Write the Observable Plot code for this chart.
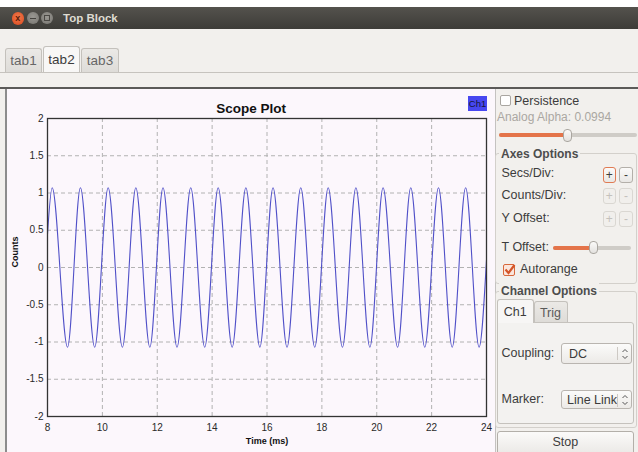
<!DOCTYPE html>
<html><head><meta charset="utf-8">
<script src="https://cdn.jsdelivr.net/npm/d3@7"></script>
<script src="https://cdn.jsdelivr.net/npm/@observablehq/plot@0.6"></script>
<style>
html,body{margin:0;padding:0;}
body{width:638px;height:452px;overflow:hidden;position:relative;background:#f2f0ed;font-family:"Liberation Sans",Arial,sans-serif;color:#3c3c3c;}
.a{position:absolute;box-sizing:border-box;}
.t{position:absolute;white-space:nowrap;line-height:16px;height:16px;font-size:12.5px;}
.tab{position:absolute;box-sizing:border-box;border:1px solid #c4c1bc;border-bottom:none;border-radius:3px 3px 0 0;background:linear-gradient(#ebe9e6,#dedcd8);text-align:center;font-size:13.5px;color:#666;}
.btn{position:absolute;box-sizing:border-box;border:1px solid #b3afa9;border-radius:3px;background:linear-gradient(#fbfaf9,#e9e7e4);text-align:center;font-size:12px;line-height:14px;color:#3c3c3c;}
.btn.dis{border-color:#dad7d2;color:#c4c1bc;background:#f1efec;}
.combo{position:absolute;box-sizing:border-box;border:1px solid #b9b5b0;border-radius:3px;background:linear-gradient(#fbfbfa,#eceae7);overflow:hidden;}
.grp{position:absolute;box-sizing:border-box;border:1px solid #d3d0cb;border-radius:3px;}
</style></head><body>
<div class="a" style="left:0;top:0;width:638px;height:7px;background:#fff"></div>
<div class="a" style="left:0;top:7px;width:638px;height:22px;background:linear-gradient(#54524d,#3d3c38);"></div>
<div class="a" style="left:11.5px;top:12px;width:12.5px;height:12.5px;border-radius:50%;background:radial-gradient(circle at 50% 40%,#f27a4c,#d9481e);"></div>
<div class="a" style="left:11.5px;top:11px;width:12.5px;height:14px;font-size:9px;line-height:14px;text-align:center;color:#5a1c08;font-weight:bold;">x</div>
<div class="a" style="left:26.5px;top:12px;width:12px;height:12px;border-radius:50%;background:radial-gradient(circle at 50% 40%,#9a9893,#76746f);"></div>
<div class="a" style="left:29.5px;top:17.5px;width:6px;height:1.5px;background:#45433f;"></div>
<div class="a" style="left:41px;top:12px;width:12px;height:12px;border-radius:50%;background:radial-gradient(circle at 50% 40%,#9a9893,#76746f);"></div>
<div class="a" style="left:44px;top:15px;width:6px;height:6px;border:1px solid #4a4844;"></div>
<div class="t" style="left:63px;top:10px;font-size:11.5px;font-weight:bold;color:#dfdbd2;">Top Block</div>

<div class="tab" style="left:5px;top:48px;width:37px;height:24px;line-height:24px;">tab1</div>
<div class="tab" style="left:43px;top:45.5px;width:37px;height:27px;line-height:26px;background:#f8f7f6;color:#3c3c3c;">tab2</div>
<div class="tab" style="left:81px;top:48px;width:38px;height:24px;line-height:24px;">tab3</div>
<div class="a" style="left:0;top:71.5px;width:638px;height:1px;background:#c6c3be"></div>
<div class="a" style="left:0;top:87px;width:638px;height:2px;background:#5b5a58"></div>

<div class="a" id="plotwrap" style="left:5px;top:89px;width:491px;height:363px;border-left:2px solid #8c8c8c;border-right:1px solid #c4c2c0;background:#fcf7fc;overflow:hidden;"></div>
<div class="a" style="left:468px;top:96px;width:19px;height:15px;background:#4747f0;font-size:9.5px;line-height:15px;text-align:center;color:#15153c;">Ch1</div>

<!-- right panel -->
<div class="a" style="left:500px;top:95px;width:11px;height:11px;border:1px solid #a9a6a1;border-radius:2px;background:#fff;"></div>
<div class="t" style="left:514px;top:93px;">Persistence</div>
<div class="t" style="left:497px;top:109px;font-size:12px;color:#aaa7a2;">Analog Alpha: 0.0994</div>
<div class="a" style="left:499px;top:133px;width:138px;height:4px;border-radius:2px;background:#cfccc7;"></div>
<div class="a" style="left:499px;top:133px;width:66px;height:4px;border-radius:2px;background:#e4744a;"></div>
<div class="a" style="left:562.5px;top:128.5px;width:9px;height:13px;border:1px solid #aaa6a0;border-radius:4px;background:linear-gradient(#fbfaf9,#e3e1de);"></div>

<div class="grp" style="left:495px;top:153px;width:142px;height:131px;"></div>
<div class="t" style="left:499px;top:146px;font-size:12px;font-weight:bold;color:#4d4d4d;background:#f2f0ed;padding:0 2px;">Axes Options</div>
<div class="t" style="left:501.5px;top:165px;">Secs/Div:</div>
<div class="btn" style="left:602.5px;top:166.5px;width:13.5px;height:16px;border-color:#e07b53;">+</div>
<div class="btn" style="left:619px;top:166.5px;width:14px;height:16px;">-</div>
<div class="t" style="left:501.5px;top:187px;">Counts/Div:</div>
<div class="btn dis" style="left:602.5px;top:188px;width:13.5px;height:16px;">+</div>
<div class="btn dis" style="left:619px;top:188px;width:14px;height:16px;">-</div>
<div class="t" style="left:501.5px;top:210px;">Y Offset:</div>
<div class="btn dis" style="left:602.5px;top:211px;width:13.5px;height:16px;">+</div>
<div class="btn dis" style="left:619px;top:211px;width:14px;height:16px;">-</div>
<div class="t" style="left:501.5px;top:239px;">T Offset:</div>
<div class="a" style="left:553px;top:245.5px;width:78px;height:4px;border-radius:2px;background:#cfccc7;"></div>
<div class="a" style="left:553px;top:245.5px;width:39px;height:4px;border-radius:2px;background:#e4744a;"></div>
<div class="a" style="left:588.5px;top:241px;width:9px;height:13px;border:1px solid #aaa6a0;border-radius:4px;background:linear-gradient(#fbfaf9,#e3e1de);"></div>
<div class="a" style="left:503px;top:263.5px;width:12px;height:12px;border:1px solid #d8683b;border-radius:2px;background:#fbe6dc;"></div>
<svg class="a" style="left:503px;top:262px" width="14" height="14"><path d="M2.5 7.5 L5.5 11 L11.5 3" fill="none" stroke="#d4562a" stroke-width="2.2"/></svg>
<div class="t" style="left:520px;top:261px;">Autorange</div>

<div class="grp" style="left:495px;top:291px;width:142px;height:137px;"></div>
<div class="t" style="left:499px;top:283px;font-size:12px;font-weight:bold;color:#4d4d4d;background:#f2f0ed;padding:0 2px;">Channel Options</div>
<div class="a" style="left:497px;top:321.5px;width:136.5px;height:102px;border:1px solid #c5c2bd;border-radius:0 3px 3px 3px;background:#f3f2f0;"></div>
<div class="tab" style="left:497px;top:298.5px;width:36.5px;height:24px;line-height:24px;font-size:12.5px;background:#f7f6f5;color:#3c3c3c;">Ch1</div>
<div class="tab" style="left:533.5px;top:301px;width:34px;height:21px;line-height:22px;font-size:12.5px;color:#5a5a5a;">Trig</div>
<div class="t" style="left:501.5px;top:345px;">Coupling:</div>
<div class="combo" style="left:561px;top:343px;width:71px;height:20.5px;">
  <div class="t" style="left:7px;top:1.5px;">DC</div>
  <div class="a" style="left:55px;top:3px;width:1px;height:13px;background:#cdc9c4"></div>
  <svg class="a" style="left:59px;top:3px" width="8" height="14"><path d="M1.5 5 L4 2.5 L6.5 5 M1.5 9 L4 11.5 L6.5 9" fill="none" stroke="#555" stroke-width="1"/></svg>
</div>
<div class="t" style="left:501.5px;top:391px;">Marker:</div>
<div class="combo" style="left:561px;top:389.5px;width:71px;height:19.5px;">
  <div class="a" style="left:5px;top:1px;width:50px;height:16px;overflow:hidden;"><div class="t" style="left:0;top:0;">Line Link</div></div>
  <div class="a" style="left:55px;top:3px;width:1px;height:13px;background:#cdc9c4"></div>
  <svg class="a" style="left:59px;top:2.5px" width="8" height="14"><path d="M1.5 5 L4 2.5 L6.5 5 M1.5 9 L4 11.5 L6.5 9" fill="none" stroke="#555" stroke-width="1"/></svg>
</div>
<div class="btn" style="left:497px;top:430.5px;width:136.5px;height:26px;line-height:21px;font-size:12.5px;">Stop</div>

<script>
// ---- data ----
const xTicks = [8, 10, 12, 14, 16, 18, 20, 22, 24];
const yTicks = [-2, -1.5, -1, -0.5, 0, 0.5, 1, 1.5, 2];
const peakTimes = [8.17, 9.20, 10.21, 11.22, 12.21, 13.22, 14.22, 15.23, 16.22, 17.23, 18.23, 19.24, 20.23, 21.24, 22.25, 23.24];
const peakValues = [1.07, 1.07, 1.07, 1.07, 1.07, 1.07, 1.07, 1.07, 1.07, 1.07, 1.07, 1.07, 1.07, 1.07, 1.07, 1.07];
const troughTimes = [8.73, 9.72, 10.73, 11.73, 12.72, 13.73, 14.73, 15.74, 16.73, 17.74, 18.75, 19.75, 20.76, 21.75, 22.75, 23.73];
const troughValues = [-1.07, -1.07, -1.07, -1.07, -1.07, -1.07, -1.07, -1.07, -1.07, -1.07, -1.07, -1.07, -1.07, -1.07, -1.07, -1.07];
const startTime = 8, startValue = 0.45;
const endTime = 24, endValue = 0.1;

const samples = [{t: startTime, v: startValue}];
peakTimes.forEach((t, i) => {
  samples.push({t, v: peakValues[i]});
  samples.push({t: troughTimes[i], v: troughValues[i]});
});
samples.push({t: endTime, v: endValue});

const fmt = d => String(d);
const chart = Plot.plot({
  width: 488, height: 362,
  marginLeft: 40, marginRight: 9, marginTop: 28, marginBottom: 36,
  style: {background: "transparent", fontFamily: "Liberation Sans, Arial, sans-serif", fontSize: "10px", color: "#2a2a2a", overflow: "visible"},
  x: {domain: [8, 24], label: null},
  y: {domain: [-2, 2], label: null},
  marks: [
    Plot.gridX(xTicks.slice(1, -1), {stroke: "#b2b2b2", strokeOpacity: 1, strokeDasharray: "4,3"}),
    Plot.gridY(yTicks.slice(1, -1), {stroke: "#b2b2b2", strokeOpacity: 1, strokeDasharray: "4,3"}),
    Plot.line(samples, {x: "t", y: "v", curve: "monotone-x", stroke: "#5050c8", strokeWidth: 1.1}),
    Plot.frame({stroke: "#333", strokeWidth: 1.3}),
    Plot.axisX(xTicks, {tickSize: 0, tickPadding: 7, tickFormat: fmt, label: null}),
    Plot.axisY(yTicks, {tickSize: 0, tickPadding: 4, tickFormat: fmt, label: null}),
    Plot.text(["Scope Plot"], {text: d => d, frameAnchor: "top", dx: -16, dy: -15, fontWeight: "bold", fontSize: 13.5, fill: "#111"}),
    Plot.text(["Time (ms)"], {text: d => d, frameAnchor: "bottom", dy: 27, fontWeight: "bold", fontSize: 9, fill: "#111"}),
    Plot.text(["Counts"], {text: d => d, frameAnchor: "left", dx: -32, rotate: -90, fontWeight: "bold", fontSize: 9, fill: "#111"})
  ]
});
chart.style.position = "absolute";
chart.style.left = "0px";
chart.style.top = "1px";
document.getElementById("plotwrap").appendChild(chart);
</script>
</body></html>
